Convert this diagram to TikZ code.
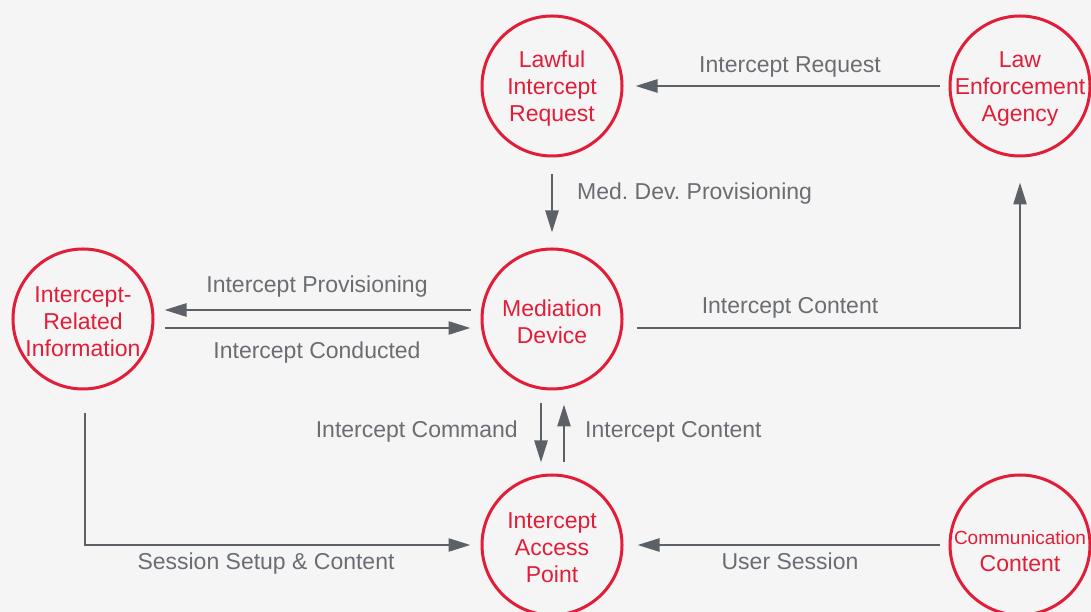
\documentclass[tikz,border=0pt]{standalone}
\usepackage{fontspec}
\setmainfont{Liberation Sans}
\usetikzlibrary{arrows.meta}
\usetikzlibrary{calc}
\definecolor{red}{RGB}{226,29,56}
\definecolor{arrowgray}{RGB}{92,96,103}
\definecolor{textgray}{RGB}{106,109,114}
\definecolor{bg}{RGB}{245,245,245}
\frenchspacing

\begin{document}
\begin{tikzpicture}[x=1pt, y=1pt,
  unit/.style={circle, draw=red, line width=3pt, minimum size=140pt, inner sep=0pt},
  unittext/.style={text=red, align=center, inner sep=0pt, yshift=-3pt,
    font=\fontsize{23}{27}\selectfont},
  flow/.style={draw=arrowgray, line width=2.5pt,
    -{Triangle[length=22pt,width=13pt]}},
  lbl/.style={text=textgray, inner sep=0pt, font=\fontsize{23}{27}\selectfont}]

% canvas
\fill[bg] (0,0) rectangle (1091,612);
\useasboundingbox (0,0) rectangle (1091,612);

%---------------------------------------
% Units
%---------------------------------------
\node[unit, label={[unittext]center:Lawful\\Intercept\\Request}]     (req) at (552,526) {};
\node[unit, label={[unittext]center:Law\\Enforcement\\Agency}]       (lea) at (1020,526) {};
\node[unit, label={[unittext]center:Intercept-\\Related\\Information}] (iri) at (83,293) {};
\node[unit, label={[unittext]center:Mediation\\Device}]              (med) at (552,293) {};
\node[unit, label={[unittext]center:Intercept\\Access\\Point}]       (iap) at (552,67) {};
\node[unit, label={[unittext, yshift=-3pt]center:{\fontsize{19}{27}\selectfont Communication}\\Content}] (com) at (1020,67) {};

%---------------------------------------
% Flows
%---------------------------------------
% request and provisioning
\draw[flow, shorten <=9pt, shorten >=12pt] (lea.west) -- (req.east);
\draw[flow, shorten <=17pt, shorten >=15pt] (req.south) -- (med.north);

% content up to the agency
\draw[flow, shorten <=13pt, shorten >=25pt] ([yshift=-9pt]med.east) -| (lea.south);

% mediation <-> related information
\draw[flow, shorten <=10pt, shorten >=10pt] ([yshift=9pt]med.west) -- ([yshift=9pt]iri.east);
\draw[flow, shorten <=10pt, shorten >=10pt] ([yshift=-9pt]iri.east) -- ([yshift=-9pt]med.west);

% mediation <-> access point
\draw[flow, shorten <=13pt, shorten >=11pt] ([xshift=-11pt]med.south) -- ([xshift=-11pt]iap.north);
\draw[flow, shorten <=11pt, shorten >=14pt] ([xshift=12pt]iap.north) -- ([xshift=12pt]med.south);

% sessions into the access point
\draw[flow, shorten <=23pt, shorten >=10pt] ([xshift=2pt]iri.south) |- (iap.west);
\draw[flow, shorten <=9pt, shorten >=14pt] (com.west) -- (iap.east);

%---------------------------------------
% Labels
%---------------------------------------
\node[lbl, anchor=base]      (tReq)  at (790,539) {Intercept Request};
\node[lbl, anchor=base west] (tProvMed) at (577,412) {Med. Dev. Provisioning};
\node[lbl, anchor=base]      (tCntLea) at (790,298) {Intercept Content};
\node[lbl, anchor=base]      (tProv) at (317,319) {Intercept Provisioning};
\node[lbl, anchor=base]      (tCond) at (317,253) {Intercept Conducted};
\node[lbl, anchor=base east] (tCmd)  at (518,174) {Intercept Command};
\node[lbl, anchor=base west] (tCntIap) at (585,174) {Intercept Content};
\node[lbl, anchor=base]      (tSess) at (266,42) {Session Setup \& Content};
\node[lbl, anchor=base]      (tUser) at (790,42) {User Session};

\end{tikzpicture}
\end{document}
